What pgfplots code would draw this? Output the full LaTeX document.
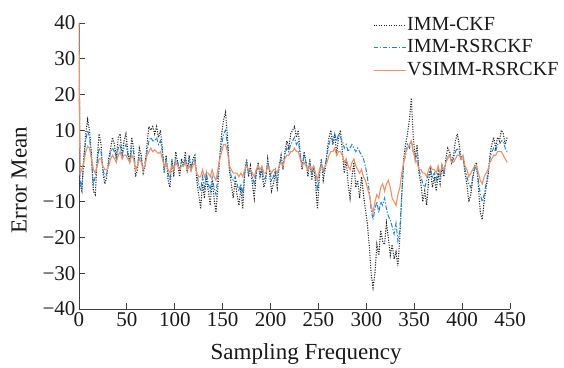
\documentclass[border=0pt]{standalone}
\usepackage{fontspec}
\setmainfont{Liberation Serif}
\usepackage{pgfplots}
\usepackage{pgfplotstable}
\pgfplotsset{compat=1.18}
\usetikzlibrary{calc}
\definecolor{cblue}{RGB}{35,130,205}
\definecolor{corange}{RGB}{238,145,105}

\pgfplotstableread{
x B L O
0 40 40 40
1 -5 -4 -2
3 -7 -6 -1
5 2 2 1
7 9 7 4
9 13 10 5.5
11 10 8 5
13 3 2 2
15 -7 -5 -1
17 -8 -3 -2
19 2 1 0
21 9 5 2
23 6 4 2
25 -2 -1 0
27 -5 -3 -1
29 -3 -2 -1
31 2 1 0
33 5 4 2
35 8 5 3
37 6 4 2
39 2 2 1
41 8 5 3
43 9 6 4
45 3 3 2
47 7 5 3
49 9 6 3
51 4 3 2
53 1 1 1
55 8 5 3
57 5 4 2
59 -3 -1 -1
61 -1 0 0
63 5 3 2
65 3 2 1
67 -2 -1 -1
69 0 1 0
71 6 4 3
73 11 7 4
75 10 8 5
77 11 7 4
79 9 7 4.5
81 11 8 4
83 8 6 3.5
85 10 7 4
87 5 4 2
89 -2 -1 0
91 3 2 1
93 -4 -2 -1
95 -6 -4 -2
97 2 1 0
99 -3 -1 -1
101 4 2 1
103 1 1 0
105 -3 -1 -1
107 2 1 0
109 0 0 0
111 4 2 1
113 -2 -1 -1
115 3 2 0
117 -1 0 -1
119 2 1 0
121 3 2 1
123 -4 -2 -2
125 -8 -5 -3
127 -12 -7 -3
129 -5 -3 -1
131 -9 -6 -3
133 -3 -2 -2
135 -7 -5 -2
137 -11 -7 -3
139 -4 -3 -1
141 -9 -6 -3
143 -13 -8 -4
145 -6 -3 -1
147 3 3 2
149 9 6 4
151 13 9 6
153 15 10 6
155 8 6 4
157 -1 0 0
159 -5 -3 -1
161 -9 -4 -2
163 -4 -3 -2
165 -8 -5 -2
167 -11 -7 -3
169 -6 -5 -2
171 -12 -8 -3
173 -2 -2 -1
175 2 1 0
177 -3 -2 -1
179 0 -1 -1
181 -5 -3 -2
183 -9 -5 -3
185 -2 -2 -1
187 1 0 0
189 -3 -2 -1
191 -1 -1 0
193 -6 -4 -2
195 -4 -3 -2
197 2 1 0
199 -2 -1 -1
201 -7 -4 -2
203 -5 -3 -1
205 -2 -1 -1
207 -6 -4 -2
209 0 0 0
211 3 2 1
213 -1 0 0
215 4 3 2
217 7 5 3
219 5 4 3
221 9 6 4
223 10 7 4
225 11 8 5
227 8 6 4
229 10 7 4
231 3 3 2
233 -1 0 0
235 4 3 1
237 1 1 0
239 -3 -1 -1
241 2 1 0
243 -4 -2 -1
245 0 0 0
247 -5 -3 -2
249 -12 -7 -4
251 -3 -2 -1
253 2 1 0
255 -4 -2 -1
257 -1 0 0
259 4 3 1
261 8 6 3
263 10 8 4
265 6 7 4
267 9 9 5
269 3 7 3
271 8 9 4
273 10 8 4
275 4 7 3
277 -2 5 1
279 2 6 2
281 -5 4 0
283 -9 5 -1
285 -3 6 1
287 1 5 2
289 -6 4 0
291 -4 5 -1
293 -9 4 -2
295 -3 3 -1
297 -8 2 -3
299 -12 0 -4
301 -16 -3 -6
303 -22 -7 -8
305 -30 -12 -11
307 -34 -15 -13
309 -30 -12 -10
311 -22 -10 -8
313 -25 -13 -9
315 -18 -10 -6
317 -21 -11 -5
319 -22 -9 -7
321 -16 -12 -5
323 -20 -14 -4
325 -25 -15 -6
327 -22 -17 -9
329 -26 -19 -10
331 -24 -16 -11
333 -28 -21 -8
335 -20 -18 -6
337 -8 -8 -2
339 2 1 1
341 6 3 4
343 9 6 5
345 13 5 6
347 19 7 7
349 8 4 4
351 2 2 2
353 6 3 1
355 -2 -1 -1
357 -5 -3 -1
359 -10 -5 -2
361 -7 -6 -2
363 -11 -4 -3
365 -4 -2 -1
367 -1 -1 0
369 -6 -3 -1
371 -3 -2 -1
373 -7 -4 -2
375 -2 -1 0
377 -5 -3 -2
379 0 0 0
381 -3 -2 -1
383 2 1 1
385 5 3 2
387 4 3 3
389 1 1 1
391 3 2 1
393 7 4 2
395 9 5 3
397 6 4 3
399 2 2 2
401 3 2 3
403 -2 -1 0
405 -5 -3 -1
407 -10 -5 -3
409 -8 -6 -2
411 -4 -3 -1
413 0 -1 0
415 1 0 0
417 -6 -4 -2
419 -13 -8 -4
421 -15 -10 -5
423 -10 -8 -3
425 -6 -5 -2
427 -3 -2 -1
429 3 2 1
431 6 4 2
433 8 5 3
435 5 4 3
437 8 6 4
439 7 6 4
441 10 7 4
443 9 7 3
445 6 5 2
447 8 4 1
}\data

\begin{document}
\begin{tikzpicture}
\begin{axis}[
  name=ax,
  width=431pt, height=286pt, scale only axis,
  xmin=0, xmax=450, ymin=-40, ymax=40,
  axis x line=bottom, axis y line=left,
  axis line style={-, line width=0.8pt, black!75},
  tick align=inside, major tick length=6pt,
  tick style={black!75, line width=0.8pt},
  xtick={0,50,100,150,200,250,300,350,400,450},
  xticklabels={0,50,100,150,200,250,300,350,400,450},
  ytick={-40,-30,-20,-10,0,10,20,30,40},
  yticklabels={−40,−30,−20,−10,0,10,20,30,40},
  ticklabel style={font=\fontsize{21}{21}\selectfont, text=black!90},
  xlabel={Sampling Frequency},
  ylabel={Error Mean},
  label style={font=\fontsize{23}{23}\selectfont, text=black!90},
  xlabel style={at={(axis description cs:0.527,-0.175)}, anchor=base},
  ylabel style={at={(axis description cs:-0.139,0.451)}, anchor=center},
  legend style={at={(rel axis cs:0.682,1.028)}, anchor=north west,
    draw=none, fill=none, inner sep=0pt, row sep=2.7pt,
    font=\fontsize{20}{20}\selectfont, text=black!90,
    nodes={inner sep=1pt, text height=14pt, text depth=4pt}},
  legend cell align=left,
  legend image code/.code={\draw[#1] (0pt,0pt) -- (32pt,0pt);},
]
\addplot[black!85, line width=1.1pt, dash pattern=on 1.1pt off 1.4pt] table[x=x,y=B]{\data};
\addlegendentry{IMM-CKF}
\addplot[cblue, line width=1pt, dash pattern=on 4.5pt off 1.8pt on 1.2pt off 1.8pt] table[x=x,y=L]{\data};
\addlegendentry{IMM-RSRCKF}
\addplot[corange, line width=1.1pt] table[x=x,y=O]{\data};
\addlegendentry{VSIMM-RSRCKF}
\end{axis}
\pgfresetboundingbox
\path[use as bounding box] ($(ax.south west)+(-79pt,-59pt)$) rectangle ($(ax.north east)+(54pt,23pt)$);
\end{tikzpicture}
\end{document}
